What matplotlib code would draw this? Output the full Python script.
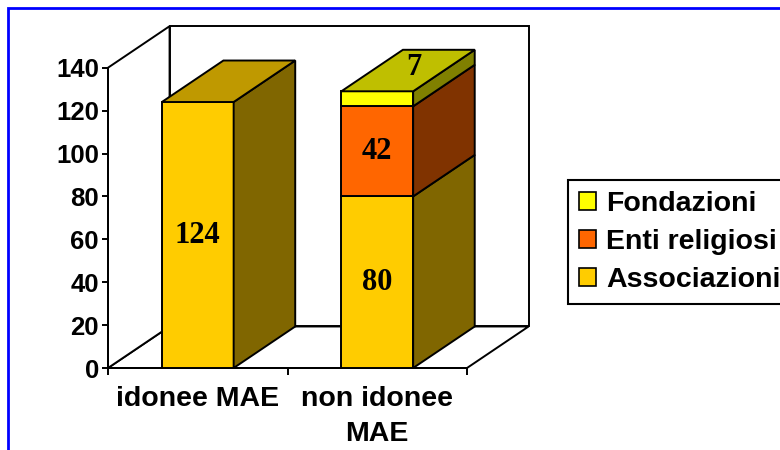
import matplotlib
matplotlib.use('Agg')

import matplotlib.pyplot as plt
from matplotlib.patches import Polygon, Rectangle, Patch
from matplotlib.colors import to_rgb

# data
categories = ['idonee MAE', 'non idonee\nMAE']
series_names = ['Associazioni', 'Enti religiosi', 'Fondazioni']
associazioni = [124, 80]
enti_religiosi = [0, 42]
fondazioni = [0, 7]
series_colors = ['#FFCC00', '#FF6600', '#FFFF00']
yticks = [0, 20, 40, 60, 80, 100, 120, 140]

# fake 3d settings (depth offset in data units)
DX = 0.343
DY = 19.35
W = 0.4
LW = 1.4
SANS = 'Liberation Sans'
SERIF = 'Liberation Serif'


def shade(c, f):
    return tuple(v * f for v in to_rgb(c))


fig = plt.figure(figsize=(7.8, 4.5), dpi=100)
ax = fig.add_axes([108 / 780, 82 / 450, 359 / 780, 300.3 / 450])
ax.set_xlim(-0.5, 1.5)
ax.set_ylim(0, yticks[-1])
ax.patch.set_visible(False)
for s in ['top', 'right']:
    ax.spines[s].set_visible(False)
for s in ['left', 'bottom']:
    ax.spines[s].set_linewidth(LW)

ymax = yticks[-1]
wall = dict(fc='white', ec='black', lw=LW, clip_on=False, zorder=1)
ax.add_patch(Polygon([(-0.5, 0), (1.5, 0), (1.5 + DX, DY), (-0.5 + DX, DY)], **wall))
ax.add_patch(Polygon([(-0.5, 0), (-0.5 + DX, DY), (-0.5 + DX, ymax + DY), (-0.5, ymax)], **wall))
ax.add_patch(Rectangle((-0.5 + DX, DY), 2, ymax, **wall))

series = [associazioni, enti_religiosi, fondazioni]
for i in range(len(categories)):
    bottom = 0
    top_color = None
    for vals, col in zip(series, series_colors):
        v = vals[i]
        if v <= 0:
            continue
        x0 = i - W / 2
        ax.add_patch(Rectangle((x0, bottom), W, v, fc=col, ec='black', lw=LW,
                               clip_on=False, zorder=3))
        ax.add_patch(Polygon([(x0 + W, bottom), (x0 + W + DX, bottom + DY),
                              (x0 + W + DX, bottom + v + DY), (x0 + W, bottom + v)],
                             fc=shade(col, 0.5), ec='black', lw=LW, clip_on=False, zorder=3))
        bottom += v
        top_color = col
    x0 = i - W / 2
    ax.add_patch(Polygon([(x0, bottom), (x0 + DX, bottom + DY),
                          (x0 + W + DX, bottom + DY), (x0 + W, bottom)],
                         fc=shade(top_color, 0.75), ec='black', lw=LW, clip_on=False, zorder=3))

    # data labels
    b = 0
    total = bottom
    for vals in series:
        v = vals[i]
        if v <= 0:
            continue
        if v >= 20:
            lx, ly = i, b + v / 2
        else:
            lx, ly = i + DX / 2 + 0.03, total + DY / 2 + 1.5
        ax.text(lx, ly, str(v), ha='center', va='center', fontsize=22,
                fontweight='bold', family=SERIF, zorder=5, clip_on=False)
        b += v

ax.set_yticks(yticks)
ax.set_yticklabels([str(t) for t in yticks], fontsize=18.5, fontweight='bold', family=SANS)
ax.set_xticks([0, 1])
ax.set_xticklabels(categories, fontsize=20.5, fontweight='bold', family=SANS, linespacing=1.45)
ax.set_xticks([-0.5, 0.5, 1.5], minor=True)
ax.tick_params(axis='x', which='major', length=0, pad=13)
ax.tick_params(axis='x', which='minor', length=5, width=LW, direction='out')
ax.tick_params(axis='y', length=4, width=LW, pad=2.5)

handles = [Patch(fc=c, ec='black', lw=1.2) for c in series_colors][::-1]
leg = fig.legend(handles, series_names[::-1], loc='upper left',
                 bbox_to_anchor=(568 / 780, 1 - 180 / 450), bbox_transform=fig.transFigure,
                 prop={'family': SANS, 'weight': 'bold', 'size': 20.5},
                 fancybox=False, edgecolor='black', framealpha=1,
                 handlelength=0.6, handleheight=0.6, handletextpad=0.35,
                 labelspacing=0.41, borderpad=0.4, borderaxespad=0)
leg.get_frame().set_linewidth(1.5)

# blue outer frame
fig.patches.append(Rectangle((8 / 780, -0.1), 1.2, 1 - 8 / 450 + 0.1, fill=False,
                             ec='#0000FF', lw=2, transform=fig.transFigure, figure=fig))

fig.savefig('out.png', dpi=100)
